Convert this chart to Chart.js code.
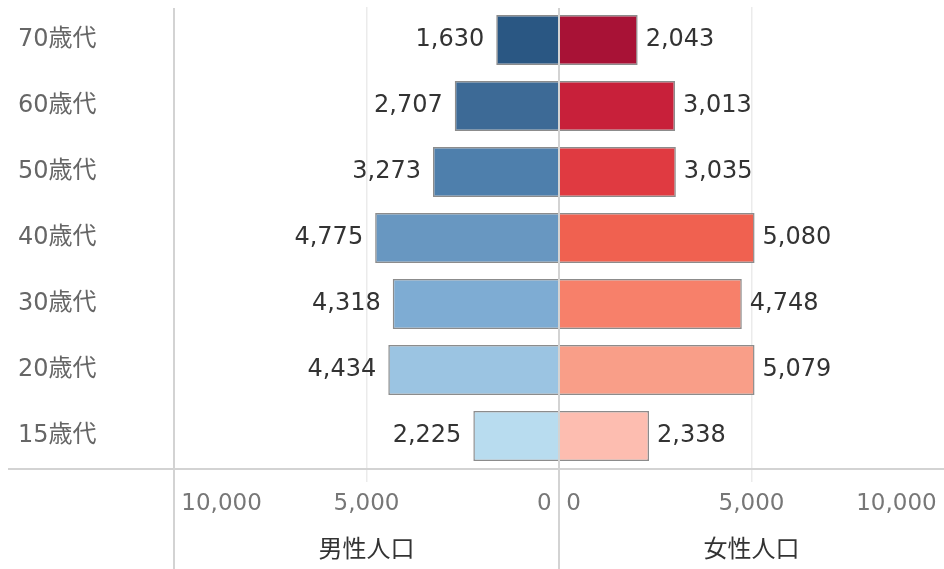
<!DOCTYPE html>
<html>
<head>
<meta charset="utf-8">
<script src="https://cdn.jsdelivr.net/npm/chart.js@4/dist/chart.umd.min.js"></script>
<style>
  html, body { margin: 0; padding: 0; background: #fff; }
  #wrap { width: 944px; height: 569px; position: relative; }
</style>
</head>
<body>
<div id="wrap"><canvas id="pyramid"></canvas></div>
<script>
// 年代別人口（男性 / 女性）
const ageGroups = ['70歳代', '60歳代', '50歳代', '40歳代', '30歳代', '20歳代', '15歳代'];
const maleValues = [1630, 2707, 3273, 4775, 4318, 4434, 2225];
const femaleValues = [2043, 3013, 3035, 5080, 4748, 5079, 2338];
const axisTicks = [0, 5000, 10000];

const maleColors = ['#2a5783', '#3d6a96', '#4e7fac', '#6897c1', '#7eacd3', '#9bc4e2', '#b8dcef'];
const femaleColors = ['#a81236', '#c8203a', '#e03a41', '#f06150', '#f7806a', '#f99e88', '#fdbdb0'];

const FONT = "'DejaVu Sans', 'Noto Sans CJK JP', sans-serif";
const fmt = v => Number(v).toLocaleString('en-US');

// 枠線（見出し区切り・中央線）
const framePlugin = {
    id: 'frame',
    afterDatasetsDraw(chart) {
        const { ctx, chartArea, width, height } = chart;
        const mid = chart.scales.xm.right;
        ctx.save();
        ctx.strokeStyle = '#d3d3d3';
        ctx.lineWidth = 2;
        ctx.beginPath();
        ctx.moveTo(chartArea.left, 8);
        ctx.lineTo(chartArea.left, height);
        ctx.moveTo(8, chartArea.bottom);
        ctx.lineTo(width, chartArea.bottom);
        ctx.moveTo(mid, 8);
        ctx.lineTo(mid, height);
        ctx.stroke();
        ctx.restore();
    }
};

// 数値ラベル
const valueLabels = {
    id: 'valueLabels',
    afterDatasetsDraw(chart) {
        const { ctx } = chart;
        ctx.save();
        ctx.font = '24px ' + FONT;
        ctx.fillStyle = '#333';
        ctx.textBaseline = 'middle';
        chart.data.datasets.forEach((ds, i) => {
            const meta = chart.getDatasetMeta(i);
            meta.data.forEach((bar, j) => {
                const left = bar.x < bar.base;
                ctx.textAlign = left ? 'right' : 'left';
                ctx.fillText(fmt(ds.data[j]), left ? bar.x - 12 : bar.x + 8, bar.y);
            });
        });
        ctx.restore();
    }
};

function xAxis(title, reverse) {
    return {
        type: 'linear',
        position: 'bottom',
        stack: 'pop',
        stackWeight: 1,
        reverse: reverse,
        min: 0,
        max: 10000,
        afterBuildTicks: scale => { scale.ticks = axisTicks.map(v => ({ value: v })); },
        afterFit: scale => {
            scale.height = 100;
            scale.paddingLeft = 0;
            scale.paddingRight = 0;
        },
        border: { display: false },
        grid: {
            color: c => c.tick && c.tick.value === 5000 ? '#ebebeb' : 'rgba(0,0,0,0)',
            lineWidth: 1.5,
            drawTicks: true,
            tickLength: 13
        },
        ticks: {
            align: 'inner',
            padding: 8,
            color: '#777',
            font: { family: FONT, size: 23 },
            callback: v => {
                // 端のラベルを少し内側へ
                if (v === 0) return reverse ? '0 ' : ' 0';
                if (v === 10000) return reverse ? ' ' + fmt(v) : fmt(v) + ' ';
                return fmt(v);
            }
        },
        title: {
            display: true,
            text: title,
            color: '#333',
            font: { family: FONT, size: 24 },
            padding: { top: 4, bottom: 4 }
        }
    };
}

new Chart(document.getElementById('pyramid'), {
    type: 'bar',
    data: {
        labels: ageGroups,
        datasets: [
            {
                label: '男性人口',
                data: maleValues,
                xAxisID: 'xm',
                backgroundColor: maleColors,
                borderColor: '#8c8c8c',
                borderWidth: 1.5,
                grouped: false
            },
            {
                label: '女性人口',
                data: femaleValues,
                xAxisID: 'xf',
                backgroundColor: femaleColors,
                borderColor: '#8c8c8c',
                borderWidth: 1.5,
                grouped: false
            }
        ]
    },
    options: {
        indexAxis: 'y',
        responsive: true,
        maintainAspectRatio: false,
        animation: false,
        layout: { padding: { left: 18, top: 7, right: 0, bottom: 0 } },
        categoryPercentage: 1,
        barPercentage: 0.76,
        plugins: {
            legend: { display: false },
            tooltip: { enabled: false }
        },
        scales: {
            y: {
                type: 'category',
                afterFit: scale => {
                    scale.width = 156;
                    scale.paddingTop = 0;
                    scale.paddingBottom = 0;
                },
                border: { display: false },
                grid: { display: false },
                ticks: {
                    crossAlign: 'far',
                    color: '#666',
                    font: { family: FONT, size: 24 }
                }
            },
            xm: xAxis('男性人口', true),
            xf: xAxis('女性人口', false)
        }
    },
    plugins: [framePlugin, valueLabels]
});
</script>
</body>
</html>
